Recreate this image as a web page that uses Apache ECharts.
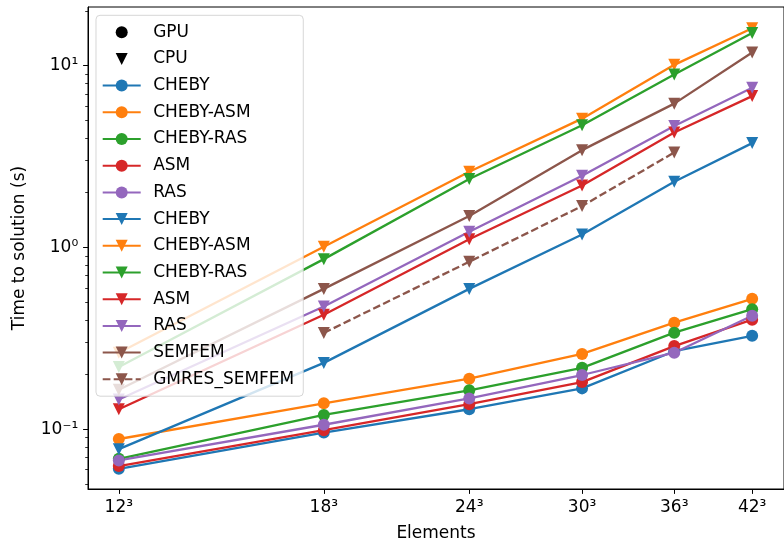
<!DOCTYPE html>
<html>
<head>
<meta charset="utf-8">
<script src="https://cdn.jsdelivr.net/npm/echarts@6/dist/echarts.min.js"></script>
<style>
  html, body { margin: 0; padding: 0; background: #fff; }
  #chart { width: 784px; height: 547px; }
</style>
</head>
<body>
<div id="chart"></div>
<script>
// elements per side, plotted as N^3
const elements = [12, 18, 24, 30, 36, 42]
const yMajorTicks = [0.1, 1, 10]
const yMinorTicks = [0.05, 0.06, 0.07, 0.08, 0.09, 0.2, 0.3, 0.4, 0.5, 0.6, 0.7, 0.8, 0.9,
  2, 3, 4, 5, 6, 7, 8, 9, 20]

// GPU timings (s)
const gpuCheby    = [0.0607, 0.096, 0.129, 0.168, 0.269, 0.327]
const gpuChebyAsm = [0.0885, 0.139, 0.190, 0.260, 0.386, 0.522]
const gpuChebyRas = [0.0689, 0.120, 0.164, 0.218, 0.340, 0.458]
const gpuAsm      = [0.0628, 0.099, 0.1375, 0.182, 0.287, 0.401]
const gpuRas      = [0.0675, 0.106, 0.148, 0.199, 0.264, 0.421]

// CPU timings (s)
const cpuCheby    = [0.0778, 0.232, 0.592, 1.18, 2.30, 3.75]
const cpuChebyAsm = [0.264, 1.01, 2.61, 5.11, 10.1, 16.07]
const cpuChebyRas = [0.220, 0.863, 2.38, 4.70, 8.93, 15.1]
const cpuAsm      = [0.129, 0.427, 1.11, 2.19, 4.29, 6.80]
const cpuRas      = [0.146, 0.474, 1.22, 2.48, 4.66, 7.55]
const cpuSemfem   = [0.165, 0.592, 1.49, 3.43, 6.18, 11.8]
const cpuGmresSemfem = [null, 0.339, 0.835, 1.69, 3.33, null]

const FONT = 'DejaVu Sans'
const FS = 17
const colors = ['#1f77b4', '#ff7f0e', '#2ca02c', '#d62728', '#9467bd', '#8c564b']
const SUP = {'-': '⁻', '0': '⁰', '1': '¹', '2': '²', '3': '³'}

function pairs(vals) {
  return elements.map((n, i) => [n, vals[i]])
}

function mkSeries(name, vals, color, marker, dashed) {
  return {
    name: name,
    type: 'line',
    data: pairs(vals),
    symbol: marker === 'v' ? 'triangle' : 'circle',
    symbolRotate: marker === 'v' ? 180 : 0,
    symbolSize: 12,
    showSymbol: true,
    itemStyle: { color: color },
    lineStyle: { color: color, width: 2.3, type: dashed ? [7.7, 3.3] : 'solid' },
    emphasis: { disabled: true },
    silent: true
  }
}

const chart = echarts.init(document.getElementById('chart'), null, { renderer: 'canvas' })

const option = {
  backgroundColor: '#fff',
  animation: false,
  textStyle: { fontFamily: FONT },
  grid: {
    left: 88, right: -3, top: 7, bottom: 55,
    show: true, borderColor: '#000', borderWidth: 1, backgroundColor: 'transparent'
  },
  xAxis: {
    type: 'log',
    min: 11.29,
    max: 44.73,
    name: 'Elements',
    nameLocation: 'middle',
    nameGap: 36,
    nameTextStyle: { fontFamily: FONT, fontSize: FS, color: '#000' },
    axisLine: { show: true, lineStyle: { color: '#000', width: 1 } },
    axisTick: { show: true, length: 4.9, customValues: elements, lineStyle: { color: '#000', width: 1 } },
    axisLabel: {
      customValues: elements,
      margin: 9.8,
      fontFamily: FONT, fontSize: FS, color: '#000',
      formatter: v => v + '³'
    },
    splitLine: { show: false },
    minorTick: { show: false }
  },
  yAxis: [
    {
      type: 'log',
      position: 'left',
      min: 0.04699,
      max: 21.01,
      name: 'Time to solution (s)',
      nameLocation: 'middle',
      nameGap: 60,
      nameTextStyle: { fontFamily: FONT, fontSize: FS, color: '#000' },
      axisLine: { show: true, lineStyle: { color: '#000', width: 1 } },
      axisTick: { show: true, length: 4.9, customValues: yMajorTicks, lineStyle: { color: '#000', width: 1 } },
      axisLabel: {
        customValues: yMajorTicks,
        margin: 9.8,
        fontFamily: FONT, fontSize: FS, color: '#000',
        formatter: v => '10' + String(Math.round(Math.log10(v))).split('').map(c => SUP[c]).join('')
      },
      splitLine: { show: false }
    },
    {
      // minor ticks only
      type: 'log',
      position: 'left',
      min: 0.04699,
      max: 21.01,
      axisLine: { show: false },
      axisTick: { show: true, length: 2.8, customValues: yMinorTicks, lineStyle: { color: '#000', width: 0.8 } },
      axisLabel: { show: false },
      splitLine: { show: false }
    }
  ],
  legend: {
    orient: 'vertical',
    left: 96,
    top: 15.3,
    padding: [8.4, 9, 8.4, 5.7],
    itemWidth: 38,
    itemHeight: 15,
    itemGap: 9.7,
    backgroundColor: 'rgba(255,255,255,0.8)',
    borderColor: 'rgba(204,204,204,0.8)',
    borderWidth: 1,
    borderRadius: 4,
    selectedMode: false,
    textStyle: { fontFamily: FONT, fontSize: FS, color: '#000', lineHeight: 17, padding: [0, 0, 0, 7.5] },
    formatter: n => n.replace(/@.*$/, ''),
    data: [
      { name: 'GPU', lineStyle: { width: 0, opacity: 0 } },
      { name: 'CPU', lineStyle: { width: 0, opacity: 0 } },
      'CHEBY@gpu', 'CHEBY-ASM@gpu', 'CHEBY-RAS@gpu', 'ASM@gpu', 'RAS@gpu',
      'CHEBY@cpu', 'CHEBY-ASM@cpu', 'CHEBY-RAS@cpu', 'ASM@cpu', 'RAS@cpu',
      'SEMFEM@cpu', 'GMRES_SEMFEM@cpu'
    ]
  },
  series: [
    { name: 'GPU', type: 'line', data: [], symbol: 'circle', symbolSize: 12,
      itemStyle: { color: '#000' }, lineStyle: { width: 0, opacity: 0 } },
    { name: 'CPU', type: 'line', data: [], symbol: 'triangle', symbolRotate: 180, symbolSize: 12,
      itemStyle: { color: '#000' }, lineStyle: { width: 0, opacity: 0 } },
    mkSeries('CHEBY@gpu', gpuCheby, colors[0], 'o'),
    mkSeries('CHEBY-ASM@gpu', gpuChebyAsm, colors[1], 'o'),
    mkSeries('CHEBY-RAS@gpu', gpuChebyRas, colors[2], 'o'),
    mkSeries('ASM@gpu', gpuAsm, colors[3], 'o'),
    mkSeries('RAS@gpu', gpuRas, colors[4], 'o'),
    mkSeries('CHEBY@cpu', cpuCheby, colors[0], 'v'),
    mkSeries('CHEBY-ASM@cpu', cpuChebyAsm, colors[1], 'v'),
    mkSeries('CHEBY-RAS@cpu', cpuChebyRas, colors[2], 'v'),
    mkSeries('ASM@cpu', cpuAsm, colors[3], 'v'),
    mkSeries('RAS@cpu', cpuRas, colors[4], 'v'),
    mkSeries('SEMFEM@cpu', cpuSemfem, colors[5], 'v'),
    mkSeries('GMRES_SEMFEM@cpu', cpuGmresSemfem, colors[5], 'v', true)
  ]
}

chart.setOption(option)
</script>
</body>
</html>
